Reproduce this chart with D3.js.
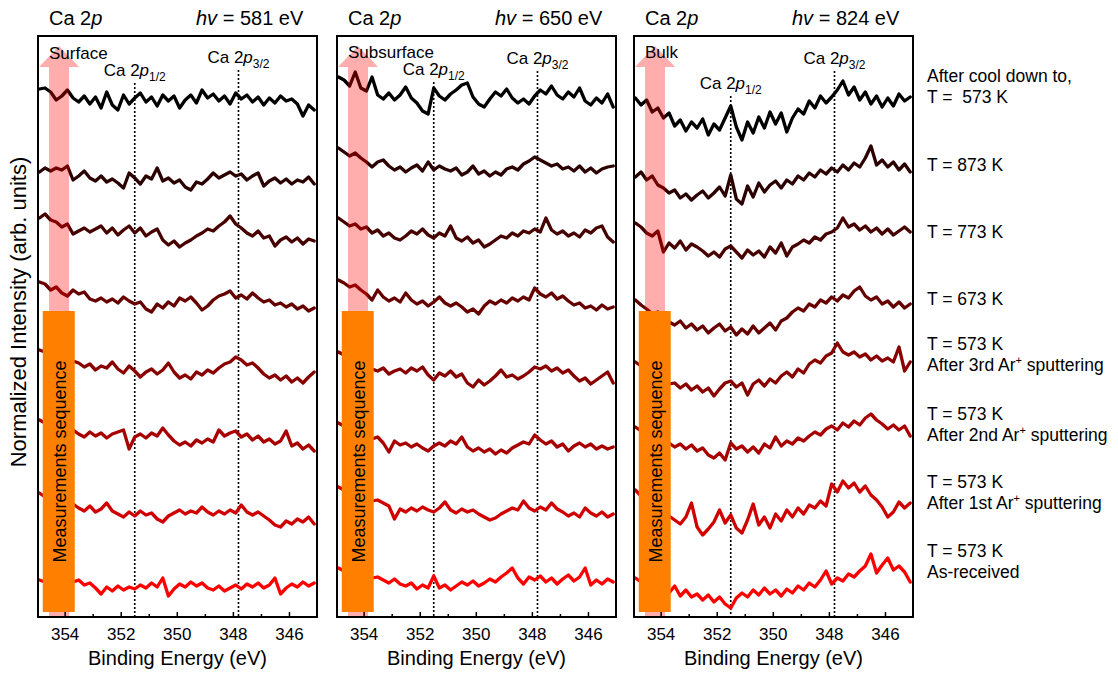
<!DOCTYPE html>
<html>
<head>
<meta charset="utf-8">
<script src="https://cdn.jsdelivr.net/npm/d3@7"></script>
<style>
body { margin: 0; background: #fff; }
text { font-family: "Liberation Sans", Arial, sans-serif; fill: #000; white-space: pre; }
</style>
</head>
<body>
<div id="chart"></div>
<script>

// binding energy grid (eV), shared by all spectra
const energy = [354.9, 354.7, 354.5, 354.3, 354.1, 353.9, 353.7, 353.5, 353.3, 353.1,
	352.9, 352.7, 352.5, 352.3, 352.1, 351.9, 351.7, 351.5, 351.3, 351.1,
	350.9, 350.7, 350.5, 350.3, 350.1, 349.9, 349.7, 349.5, 349.3, 349.1,
	348.9, 348.7, 348.5, 348.3, 348.1, 347.9, 347.7, 347.5, 347.3, 347.1,
	346.9, 346.7, 346.5, 346.3, 346.1, 345.9, 345.7, 345.5, 345.3, 345.1];

const photonEnergy = ['581', '650', '824'];
const depthLabels = ['Surface', 'Subsurface', 'Bulk'];
const peakEnergies = [351.5, 347.8];
const majorTicks = [354, 352, 350, 348, 346];
const minorTicks = [353, 351, 349, 347];

// top to bottom: cool down, 873, 773, 673, 3rd, 2nd, 1st sputtering, as-received
const traceColors = ['#000000', '#2a0000', '#470000', '#660000', '#880000', '#a80000', '#d00000', '#ff0000'];

// vertical offset of every spectrum in the stack (arb. units)
const offsets581 = [517, 439, 382, 317, 247, 177, 104, 30];
const offsets650 = [520, 449, 382, 317, 242, 172, 107, 34];
const offsets824 = [502, 437, 377, 297, 242, 177, 107, 27];

// intensity relative to offset, hv = 581 eV
const spectra581 = [
	[11,12,8,0,4,10,2,-2,4,-4,3,-8,8,-5,-10,5,-4,2,7,-2,3,-6,5,-1,4,-8,0,5,-3,10,2,6,-1,4,-4,7,1,5,-2,3,-5,2,-3,4,-1,1,-4,-16,-5,-10],
	[6,10,7,10,8,12,-2,2,7,0,-3,2,-4,-1,-5,-10,5,0,-6,2,-1,10,-3,0,-5,-2,-9,-12,-4,-6,-1,5,0,3,6,2,4,-2,2,5,-8,-3,0,-5,-1,-6,-2,-4,1,-6],
	[17,21,15,13,8,11,1,4,7,3,6,9,2,7,0,5,9,2,7,-1,3,6,-5,-10,-6,-12,-8,-5,-1,2,6,4,9,13,19,11,7,2,-1,4,-3,-1,-11,-5,-2,-7,-3,-9,-4,-6],
	[18,16,10,13,7,4,10,6,8,1,-1,2,-2,1,-3,3,-1,-4,-2,-9,-12,-4,-8,-2,-6,2,-1,3,-3,-10,-6,0,4,6,9,2,5,1,7,2,-2,0,-5,-3,-7,-4,-9,-6,-11,-8],
	[20,18,14,10,12,8,9,7,3,6,0,4,2,8,1,-3,4,-1,-7,-2,1,-4,0,7,-2,-8,-5,-9,-2,-5,0,-3,2,6,8,13,10,5,7,2,-4,-8,-5,-10,-6,-12,-8,-13,-7,-2],
	[20,17,14,11,13,9,10,6,3,8,4,7,2,6,8,10,-9,3,6,2,7,4,12,5,-1,-5,-2,-6,0,-3,1,-2,10,4,7,9,3,6,0,4,-2,1,-4,-1,9,-6,-3,-9,-5,-11],
	[20,16,13,10,12,8,9,5,2,7,1,4,10,2,-1,-4,1,-3,2,-2,0,-6,-9,-3,0,3,-1,2,0,6,1,-2,2,-1,3,0,8,1,-2,1,-3,-7,-12,-14,-8,-11,-6,-9,-4,-11],
	[7,5,8,4,6,3,5,7,2,4,-1,-7,0,-4,1,-3,0,-2,2,-1,4,0,9,-9,-2,3,0,5,1,4,-1,-3,1,-4,-1,2,-2,3,0,4,-1,2,9,-7,-1,3,0,5,1,4]
];

// hv = 650 eV
const spectra650 = [
	[20,17,11,25,9,6,20,2,-2,4,-3,2,10,-1,-6,-14,-17,9,1,-3,3,7,12,14,0,-7,-10,-2,5,1,8,-1,-6,-2,-7,1,7,3,11,2,-2,5,0,9,-4,-8,-1,-6,3,-10],
	[20,16,12,15,10,6,1,6,8,2,-2,1,-4,0,3,-3,6,-2,2,-1,-3,0,-7,-4,2,-6,-3,-8,-4,-7,-1,1,-2,4,7,11,8,5,2,4,-1,1,-3,2,-4,0,-5,-1,1,2],
	[17,13,9,11,6,8,2,5,-1,2,-3,-5,-1,4,1,6,0,-3,2,-1,9,-3,-6,-2,-8,-5,-12,-9,-5,-1,-3,2,-1,4,2,6,3,17,5,1,4,-1,2,-2,5,2,7,9,-2,-7],
	[20,17,13,15,10,6,0,10,3,-1,2,-2,7,0,-4,-1,-6,-2,3,-3,-6,-3,-7,-12,-9,-14,-6,-1,-4,0,-3,2,-1,3,0,12,6,3,7,1,4,-1,-5,-3,-8,-6,-10,-5,-9,-7],
	[23,20,16,13,11,9,6,4,7,1,4,6,2,7,4,8,0,-5,2,-1,4,-2,1,-8,-12,-5,-10,-6,-1,5,-2,0,-4,-1,3,8,6,9,4,7,2,5,-1,-6,-3,-9,-5,-1,3,-8],
	[22,19,15,17,12,9,6,8,2,-7,4,0,2,-2,1,-3,-6,-1,2,-1,4,1,8,-2,-6,-3,-7,-4,-9,-5,-8,-3,0,3,1,10,5,1,4,-2,1,-6,-1,2,-2,1,-4,-1,-4,-2],
	[23,20,16,18,14,11,9,10,7,4,-9,1,-2,2,-1,3,0,-2,2,8,0,-3,1,-2,0,-4,-7,-10,-8,-4,-1,2,0,9,2,-1,3,0,7,1,-2,-6,-3,-7,2,-3,-6,-2,-7,-4],
	[15,12,9,11,7,8,5,6,3,0,4,-1,-3,0,-6,-2,-5,7,-5,-2,-7,-3,1,-2,2,-3,0,4,1,6,10,15,5,-1,6,3,7,1,5,-1,4,8,2,6,15,-2,3,-1,4,1]
];

// hv = 824 eV
const spectra824 = [
	[17,10,15,3,7,-3,2,-11,-5,-16,-7,-13,-4,-20,-9,-15,-3,9,-12,-25,-7,-18,-2,-13,3,-9,2,-17,-3,6,1,14,7,19,12,18,25,34,20,28,15,23,11,19,8,17,9,21,14,18],
	[3,8,0,4,-5,-8,-13,-10,-18,-14,-20,-15,-11,-18,-13,-7,-16,5,-19,-24,-6,-17,-3,-12,-5,-1,-8,0,-4,4,0,7,3,10,6,12,8,15,10,17,13,22,34,15,20,13,18,10,16,8],
	[17,13,7,4,9,-12,-3,-8,-1,-10,-4,-7,-11,-16,-12,-17,-9,-6,-12,-18,-10,-15,-11,-17,-7,-13,-3,-16,-7,-4,0,-3,3,0,6,8,12,22,13,16,10,14,8,12,6,11,5,9,13,8],
	[20,15,11,6,8,2,-2,-5,-1,-8,-4,-10,-6,-13,-8,-4,-11,-7,-15,-9,-14,-6,-13,-8,-3,-10,-1,2,8,12,9,16,13,20,17,23,19,25,22,29,33,24,20,23,16,19,13,18,12,16],
	[13,9,5,1,-3,-6,-9,-8,-13,-9,-15,-11,-17,-13,-21,-14,-8,-6,-12,-8,-20,-9,-5,-11,-4,-8,-1,3,-2,6,2,11,15,12,19,22,32,23,20,23,18,21,15,19,14,17,13,28,4,13],
	[13,9,5,2,0,3,-3,-7,-4,-9,-5,-11,-8,-15,-18,-13,-20,-3,-9,-6,-12,-7,-13,-4,-8,3,-6,-1,-4,2,-1,4,8,5,11,14,10,17,13,19,15,22,26,20,16,11,15,10,14,4],
	[20,14,10,5,1,-2,-6,-10,-14,-7,7,-17,-25,-19,-12,0,-13,-5,-18,-23,-10,6,-15,-7,-18,-4,-11,0,-7,2,-4,5,2,9,4,26,18,29,22,27,18,24,15,10,3,-7,-2,8,2,7],
	[12,8,5,2,-1,1,-3,4,-6,0,-7,-4,-10,-5,-12,-7,-14,-18,-8,-3,-7,0,-5,2,-4,0,-6,1,-3,4,0,7,3,10,19,6,12,9,16,13,19,24,36,17,25,32,20,24,18,8]
];

// labels on the right, one or two lines per spectrum ("|" marks the superscript)
const conditionLabels = [
	['After cool down to,', 'T =  573 K'],
	['T = 873 K'],
	['T = 773 K'],
	['T = 673 K'],
	['T = 573 K', 'After 3rd Ar|+| sputtering'],
	['T = 573 K', 'After 2nd Ar|+| sputtering'],
	['T = 573 K', 'After 1st Ar|+| sputtering'],
	['T = 573 K', 'As-received']
];
const conditionBaselines = [82, 171, 238, 305, 350, 420, 488, 557];

function drawChart()
{
	var width = 1118, height = 675;
	var frameTop = 36, frameBottom = 617, panelW = 279;
	var panelLeft = [38, 337, 634];
	var allOffsets = [offsets581, offsets650, offsets824];
	var allSpectra = [spectra581, spectra650, spectra824];
	// label baselines of Ca 2p1/2 and Ca 2p3/2 in each panel
	var peakLabelY = [[76, 63], [75, 64], [89, 64]];

	var svg = d3.select('#chart').append('svg')
		.attr('width', width)
		.attr('height', height);

	var y = d3.scaleLinear()
		.domain([0, 581])
		.range([frameBottom, frameTop]);

	photonEnergy.forEach(function(hv, k) {
		var left = panelLeft[k];
		var x = d3.scaleLinear()
			.domain([354.95, 345])
			.range([left, left + panelW]);

		var g = svg.append('g');

		g.append('clipPath').attr('id', 'clip' + k)
			.append('rect')
			.attr('x', left).attr('y', frameTop)
			.attr('width', panelW).attr('height', frameBottom - frameTop);

		// dotted peak markers
		peakEnergies.forEach(function(e, j) {
			g.append('line')
				.attr('x1', x(e)).attr('x2', x(e))
				.attr('y1', peakLabelY[k][j] + 7).attr('y2', frameBottom)
				.attr('stroke', '#000')
				.attr('stroke-width', 1.6)
				.attr('stroke-dasharray', '2,2');
		});

		// spectra
		var line = d3.line()
			.defined(function(d) { return d != null; })
			.x(function(d, i) { return x(energy[i]); })
			.y(function(d) { return y(d); });

		var traces = g.append('g').attr('clip-path', 'url(#clip' + k + ')');
		allSpectra[k].forEach(function(dev, j) {
			var vals = dev.map(function(d) { return allOffsets[k][j] + d; });
			traces.append('path')
				.datum(vals)
				.attr('d', line)
				.attr('fill', 'none')
				.attr('stroke', traceColors[j])
				.attr('stroke-width', 3.3)
				.attr('stroke-linejoin', 'round')
				.attr('stroke-linecap', 'round');
		});

		// pink depth arrow (drawn over the spectra)
		var ax = x(354.2);
		var headTop = y(571), headBase = y(550);
		g.append('path')
			.attr('d', 'M' + (ax - 10) + ',' + frameBottom +
				'L' + (ax - 10) + ',' + headBase +
				'L' + (ax - 20) + ',' + headBase +
				'L' + ax + ',' + headTop +
				'L' + (ax + 20) + ',' + headBase +
				'L' + (ax + 10) + ',' + headBase +
				'L' + (ax + 10) + ',' + frameBottom + 'Z')
			.attr('fill', '#ff0000')
			.attr('fill-opacity', 0.32);

		// orange measurement sequence bar
		var bx0 = x(354.78), bx1 = x(353.64);
		g.append('rect')
			.attr('x', bx0).attr('y', y(306))
			.attr('width', bx1 - bx0).attr('height', y(5) - y(306))
			.attr('fill', '#ff8000');
		g.append('text')
			.attr('transform', 'translate(' + (left + 27.5) + ',' + ((y(306) + y(5)) / 2) + ') rotate(-90)')
			.attr('text-anchor', 'middle')
			.style('font-size', '18px')
			.text('Measurements sequence');

		// frame
		g.append('rect')
			.attr('x', left).attr('y', frameTop)
			.attr('width', panelW).attr('height', frameBottom - frameTop)
			.attr('fill', 'none')
			.attr('stroke', '#000')
			.attr('stroke-width', 2);

		// x axis, ticks pointing inward
		var axis = g.append('g')
			.attr('transform', 'translate(0,' + frameBottom + ')')
			.call(d3.axisBottom(x).tickValues(majorTicks).tickSize(-5).tickPadding(11).tickFormat(d3.format('d')));
		axis.select('.domain').remove();
		axis.selectAll('.tick line').attr('stroke-width', 1.5);
		axis.selectAll('text')
			.style('font-size', '17px')
			.style('font-family', '"Liberation Sans", Arial, sans-serif')
			.attr('fill', '#000');

		var minor = g.append('g')
			.attr('transform', 'translate(0,' + frameBottom + ')')
			.call(d3.axisBottom(x).tickValues(minorTicks).tickSize(-3).tickFormat(''));
		minor.select('.domain').remove();
		minor.selectAll('.tick line').attr('stroke-width', 1.5);

		g.append('text')
			.attr('x', left + panelW / 2)
			.attr('y', 665)
			.attr('text-anchor', 'middle')
			.style('font-size', '20px')
			.text('Binding Energy (eV)');

		// panel titles
		var t1 = g.append('text').attr('x', left + 11).attr('y', 25).style('font-size', '20px');
		t1.append('tspan').text('Ca 2');
		t1.append('tspan').style('font-style', 'italic').text('p');

		var t2 = g.append('text').attr('x', left + 158).attr('y', 25).style('font-size', '20px');
		t2.append('tspan').style('font-style', 'italic').text('hv');
		t2.append('tspan').text(' = ' + hv + ' eV');

		// depth label
		g.append('text')
			.attr('x', left + 11)
			.attr('y', k === 0 ? 59 : 58)
			.style('font-size', '17px')
			.text(depthLabels[k]);

		// peak labels
		var subs = ['1/2', '3/2'];
		peakEnergies.forEach(function(e, j) {
			var t = g.append('text')
				.attr('x', x(e))
				.attr('y', peakLabelY[k][j])
				.attr('text-anchor', 'middle')
				.style('font-size', '17px');
			t.append('tspan').text('Ca 2');
			t.append('tspan').style('font-style', 'italic').text('p');
			t.append('tspan').attr('dy', 5).style('font-size', '12px').text(subs[j]);
		});
	});

	// y axis title
	svg.append('text')
		.attr('transform', 'translate(26,312) rotate(-90)')
		.attr('text-anchor', 'middle')
		.style('font-size', '22px')
		.text('Normalized Intensity (arb. units)');

	// condition labels
	conditionLabels.forEach(function(lines, j) {
		lines.forEach(function(s, n) {
			var t = svg.append('text')
				.attr('x', 927)
				.attr('y', conditionBaselines[j] + n * 21)
				.style('font-size', '17.5px');
			var parts = s.split('|');
			t.append('tspan').text(parts[0]);
			if (parts.length > 1) {
				t.append('tspan').attr('dy', -7).style('font-size', '11px').text(parts[1]);
				t.append('tspan').attr('dy', 7).text(parts[2]);
			}
		});
	});
}

drawChart();

</script>
</body>
</html>
